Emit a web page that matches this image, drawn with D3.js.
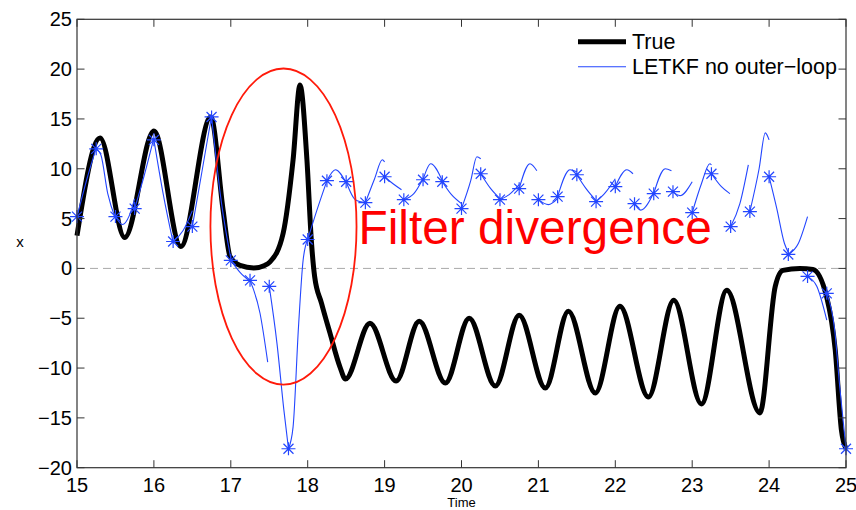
<!DOCTYPE html>
<html>
<head>
<meta charset="utf-8">
<script src="https://cdn.jsdelivr.net/npm/d3@7"></script>
<style>
  body { margin: 0; background: #fff; }
  svg text { font-family: "Liberation Sans", Arial, sans-serif; }
</style>
</head>
<body>
<div id="graph"></div>
<script>
// ** data **
// tick labels
const xTicks = [15, 16, 17, 18, 19, 20, 21, 22, 23, 24, 25];
const yTicks = [-20, -15, -10, -5, 0, 5, 10, 15, 20, 25];

// true trajectory [time, x]
const truth = [
  [15.00, 3.3], [15.30, 13.1], [15.62, 3.1], [16.00, 13.8], [16.35, 2.2], [16.74, 15.2],
  [16.90, 5.85], [16.99, 1.2], [17.12, 0.3], [17.30, 0.05], [17.44, 0.3], [17.51, 0.66],
  [17.68, 3.5], [17.81, 10.9], [17.90, 18.4], [17.99, 10.9], [18.05, 2.5], [18.09, -0.8],
  [18.18, -3.5], [18.29, -6.5], [18.42, -9.9], [18.49, -11.1],
  [18.81, -5.5], [19.15, -11.3], [19.45, -5.3], [19.79, -11.5], [20.10, -5.0], [20.44, -11.8],
  [20.75, -4.7], [21.09, -12.0], [21.39, -4.3], [21.74, -12.5], [22.06, -3.8], [22.43, -12.9],
  [22.76, -3.2], [23.12, -13.6], [23.45, -2.2], [23.88, -14.5],
  [24.08, -1.8], [24.18, -0.2], [24.40, 0.0], [24.57, -0.1], [24.75, -2.9], [24.86, -8.2],
  [24.94, -16.2], [25.00, -18.1]
];

// LETKF analyses (stars), one every 0.25 time units
const analysisTimes = d3.range(41).map(i => 15 + i * 0.25);
const analysisValues = [
  5.2, 12.0, 5.2, 6.0, 12.9, 2.7, 4.2, 15.2, 0.8, -1.2, -1.8, -18.1, 2.9, 8.8, 8.7, 6.6,
  9.2, 6.9, 8.9, 8.7, 6.0, 9.5, 6.9, 8.0, 6.9, 7.2, 9.4, 6.7, 8.2, 6.5, 7.5, 7.7,
  5.6, 9.5, 4.2, 5.7, 9.2, 1.4, -0.8, -2.5, -18.1
];

// forecasts started from each analysis [time, x]
const forecasts = [
  [[15.00, 5.2], [15.13, 9.0], [15.25, 12.1]],
  [[15.25, 12.0], [15.31, 11.4], [15.40, 7.5], [15.50, 5.0]],
  [[15.50, 5.2], [15.59, 4.4], [15.68, 5.3], [15.75, 7.0]],
  [[15.75, 6.0], [15.88, 9.5], [16.00, 13.1]],
  [[16.00, 12.9], [16.12, 7.5], [16.25, 2.6]],
  [[16.25, 2.7], [16.38, 3.8], [16.50, 5.8]],
  [[16.50, 4.2], [16.62, 9.5], [16.75, 15.3]],
  [[16.75, 15.2], [16.88, 6.5], [17.00, 1.0]],
  [[17.00, 0.8], [17.12, -0.4], [17.25, -1.3]],
  [[17.25, -1.2], [17.38, -4.5], [17.48, -9.4]],
  [[17.50, -1.8], [17.60, -7.5], [17.69, -14.2], [17.75, -18.1]],
  [[17.75, -18.1], [17.81, -15.9], [17.88, -5.9], [17.94, 0.8], [18.00, 2.9]],
  [[18.00, 2.9], [18.12, 5.85], [18.25, 8.8]],
  [[18.25, 8.8], [18.36, 9.9], [18.50, 8.6]],
  [[18.50, 8.7], [18.62, 6.9], [18.75, 6.6]],
  [[18.75, 6.6], [18.87, 9.0], [18.97, 10.9], [19.00, 10.7]],
  [[19.00, 9.2], [19.11, 8.5], [19.22, 7.9]],
  [[19.25, 6.9], [19.38, 7.5], [19.50, 9.0]],
  [[19.50, 8.9], [19.60, 10.5], [19.75, 8.8]],
  [[19.75, 8.7], [19.87, 7.4], [20.00, 6.5]],
  [[20.00, 6.0], [20.12, 8.8], [20.20, 11.2], [20.25, 11.0]],
  [[20.25, 9.5], [20.38, 8.0], [20.50, 7.0]],
  [[20.50, 6.9], [20.62, 7.4], [20.75, 8.4]],
  [[20.75, 8.0], [20.89, 10.5], [20.98, 9.8]],
  [[21.00, 6.9], [21.13, 6.4], [21.25, 7.0]],
  [[21.25, 7.2], [21.41, 9.9], [21.50, 9.7]],
  [[21.50, 9.4], [21.62, 8.0], [21.75, 6.8]],
  [[21.75, 6.7], [21.87, 7.6], [22.00, 9.0]],
  [[22.00, 8.2], [22.15, 9.9], [22.23, 9.5]],
  [[22.25, 6.5], [22.33, 5.85], [22.50, 7.6]],
  [[22.50, 7.5], [22.65, 10.0], [22.73, 9.8]],
  [[22.75, 7.7], [22.84, 7.3], [23.00, 8.7]],
  [[23.00, 5.6], [23.12, 8.5], [23.23, 10.5], [23.25, 10.4]],
  [[23.25, 9.5], [23.38, 8.2], [23.49, 7.5]],
  [[23.50, 4.2], [23.62, 6.5], [23.73, 10.4]],
  [[23.75, 5.7], [23.87, 10.0], [23.95, 13.6], [24.00, 12.9]],
  [[24.00, 9.2], [24.10, 6.0], [24.20, 2.5], [24.25, 1.6]],
  [[24.25, 1.4], [24.38, 2.5], [24.50, 5.2]],
  [[24.50, -0.8], [24.62, -1.8], [24.75, -5.2]],
  [[24.75, -2.5], [24.85, -6.0], [24.92, -12.0], [25.00, -18.1]]
];

// annotation ellipse (centre and radii in data units)
const divergenceCentre = [17.685, 4.2];
const divergenceRadii = [0.95, 15.86];

// ** layout **
const wid = 856, hei = 510;
const padLeft = 77, padRight = 846, padTop = 19.3, padBottom = 467.7;
const blue = "#2346ff";

const svg = d3.select("#graph").append("svg")
  .attr("width", wid).attr("height", hei);

const xScale = d3.scaleLinear().domain([15, 25]).range([padLeft, padRight]);
const yScale = d3.scaleLinear().domain([-20, 25]).range([padBottom, padTop]);

// zero reference line
svg.append("line")
  .attr("x1", xScale(15)).attr("x2", xScale(25))
  .attr("y1", yScale(0)).attr("y2", yScale(0))
  .attr("stroke", "#aaa").attr("stroke-width", 1)
  .attr("stroke-dasharray", "8,5");

const line = d3.line()
  .x(d => xScale(d[0]))
  .y(d => yScale(d[1]))
  .curve(d3.curveMonotoneX);

// truth, thick black
svg.append("path")
  .datum(truth)
  .attr("d", line)
  .attr("fill", "none")
  .attr("stroke", "#000")
  .attr("stroke-width", 5)
  .attr("stroke-linejoin", "round");

// forecasts, thin blue
svg.append("g").selectAll("path")
  .data(forecasts)
  .enter().append("path")
  .attr("d", line)
  .attr("fill", "none")
  .attr("stroke", blue)
  .attr("stroke-width", 1.1);

// analysis asterisks
const star = "M-7,0H7M0,-6.5V6.5M-5,-5L5,5M-5,5L5,-5";
svg.append("g").selectAll("path")
  .data(analysisTimes)
  .enter().append("path")
  .attr("transform", (d, i) => `translate(${xScale(d)},${yScale(analysisValues[i])})`)
  .attr("d", star)
  .attr("fill", "none")
  .attr("stroke", blue)
  .attr("stroke-width", 1.2);

// ** axes box, matlab style ticks on all sides pointing in **
const tickLen = 7.5;
const gx = svg.append("g");
gx.selectAll("line.bt").data(xTicks).enter().append("line")
  .attr("x1", d => xScale(d)).attr("x2", d => xScale(d))
  .attr("y1", padBottom).attr("y2", padBottom - tickLen)
  .attr("stroke", "#333");
gx.selectAll("line.tt").data(xTicks).enter().append("line")
  .attr("x1", d => xScale(d)).attr("x2", d => xScale(d))
  .attr("y1", padTop).attr("y2", padTop + tickLen)
  .attr("stroke", "#333");
gx.selectAll("text").data(xTicks).enter().append("text")
  .attr("x", d => xScale(d)).attr("y", padBottom + 24)
  .attr("text-anchor", "middle")
  .style("font-size", "20px")
  .text(d => d);

const gy = svg.append("g");
gy.selectAll("line.lt").data(yTicks).enter().append("line")
  .attr("x1", padLeft).attr("x2", padLeft + tickLen)
  .attr("y1", d => yScale(d)).attr("y2", d => yScale(d))
  .attr("stroke", "#333");
gy.selectAll("line.rt").data(yTicks).enter().append("line")
  .attr("x1", padRight).attr("x2", padRight - tickLen)
  .attr("y1", d => yScale(d)).attr("y2", d => yScale(d))
  .attr("stroke", "#333");
gy.selectAll("text").data(yTicks).enter().append("text")
  .attr("x", padLeft - 5).attr("y", d => yScale(d) + 7)
  .attr("text-anchor", "end")
  .style("font-size", "20px")
  .text(d => d3.format("d")(d));

svg.append("rect")
  .attr("x", padLeft).attr("y", padTop)
  .attr("width", padRight - padLeft).attr("height", padBottom - padTop)
  .attr("fill", "none").attr("stroke", "#333").attr("stroke-width", 1.2);

// axis labels
svg.append("text")
  .attr("x", (padLeft + padRight) / 2).attr("y", 507)
  .attr("text-anchor", "middle")
  .style("font-size", "13px")
  .text("Time");
svg.append("text")
  .attr("x", 20).attr("y", 247)
  .attr("text-anchor", "middle")
  .style("font-size", "15px")
  .text("x");

// ** legend **
const legend = svg.append("g");
legend.append("line")
  .attr("x1", 578).attr("x2", 626).attr("y1", 41.7).attr("y2", 41.7)
  .attr("stroke", "#000").attr("stroke-width", 5);
legend.append("line")
  .attr("x1", 578).attr("x2", 626).attr("y1", 66.7).attr("y2", 66.7)
  .attr("stroke", blue).attr("stroke-width", 1.1);
legend.append("text")
  .attr("x", 632).attr("y", 49)
  .style("font-size", "21.5px")
  .text("True");
legend.append("text")
  .attr("x", 632).attr("y", 74)
  .style("font-size", "21.5px")
  .text("LETKF no outer\u2212loop");

// ** annotation **
svg.append("ellipse")
  .attr("cx", xScale(divergenceCentre[0]))
  .attr("cy", yScale(divergenceCentre[1]))
  .attr("rx", xScale(15 + divergenceRadii[0]) - xScale(15))
  .attr("ry", yScale(0) - yScale(divergenceRadii[1]))
  .attr("fill", "none")
  .attr("stroke", "#ff1a0a")
  .attr("stroke-width", 1.8);

svg.append("text")
  .attr("x", 358.5).attr("y", 244)
  .attr("fill", "#ff0000")
  .style("font-size", "47.8px")
  .text("Filter divergence");
</script>
</body>
</html>
